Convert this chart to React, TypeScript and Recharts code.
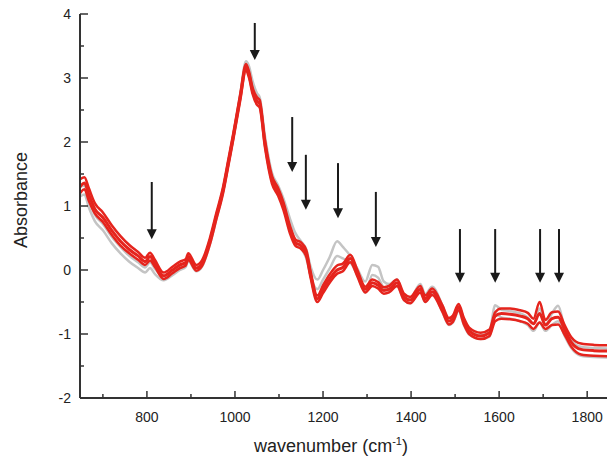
import { LineChart, Line, XAxis, YAxis, ReferenceLine, Label } from 'recharts'

const wavenumber = [
  648, 658, 668, 682, 700, 720, 740, 760, 780, 796, 807, 818, 838, 858, 875, 888, 894, 912, 925, 943,
  958, 973, 985, 996, 1012, 1025, 1032, 1040, 1050, 1056, 1068, 1084, 1098, 1110, 1125, 1137, 1150, 1162, 1172, 1187,
  1200, 1215, 1232, 1245, 1262, 1278, 1296, 1312, 1325, 1338, 1350, 1368, 1384, 1398, 1421, 1432, 1448, 1471, 1486, 1495,
  1508, 1520, 1532, 1558, 1578, 1591, 1605, 1625, 1648, 1665, 1678, 1692, 1705, 1720, 1734, 1748, 1764, 1786, 1815, 1870,
]

const redUpper = [
  1.42, 1.45, 1.28, 1.04, 0.9, 0.7, 0.53, 0.39, 0.28, 0.19, 0.27, 0.16, -0.04, 0.05, 0.13, 0.17, 0.26, 0.08, 0.15, 0.5,
  0.9, 1.3, 1.73, 2.13, 2.75, 3.22, 3.1, 2.85, 2.7, 2.66, 2.04, 1.47, 1.28, 1.06, 0.69, 0.48, 0.43, 0.31, -0.03, -0.4,
  -0.24, -0.07, 0.07, 0.1, 0.24, 0.0, -0.26, -0.15, -0.19, -0.27, -0.25, -0.15, -0.37, -0.42, -0.25, -0.4, -0.29, -0.55, -0.75, -0.71,
  -0.53, -0.75, -0.9, -0.98, -0.93, -0.66, -0.6, -0.6, -0.63, -0.67, -0.76, -0.5, -0.78, -0.66, -0.65, -0.85, -1.05, -1.15, -1.17, -1.18,
]

const redMiddle = [
  1.3, 1.36, 1.18, 0.95, 0.82, 0.62, 0.45, 0.32, 0.22, 0.13, 0.21, 0.1, -0.09, 0.0, 0.08, 0.12, 0.21, 0.03, 0.1, 0.45,
  0.85, 1.25, 1.68, 2.08, 2.7, 3.17, 3.05, 2.8, 2.64, 2.6, 1.98, 1.41, 1.22, 1.0, 0.63, 0.43, 0.38, 0.26, -0.08, -0.45,
  -0.3, -0.14, 0.0, 0.04, 0.18, -0.05, -0.3, -0.2, -0.24, -0.32, -0.3, -0.2, -0.42, -0.47, -0.3, -0.45, -0.34, -0.6, -0.8, -0.76,
  -0.58, -0.8, -0.95, -1.03, -0.98, -0.72, -0.68, -0.69, -0.72, -0.76, -0.84, -0.68, -0.86, -0.76, -0.74, -0.92, -1.13, -1.24, -1.26, -1.27,
]

const redLower = [
  1.2, 1.26, 1.08, 0.88, 0.75, 0.55, 0.38, 0.26, 0.16, 0.08, 0.15, 0.05, -0.14, -0.05, 0.03, 0.07, 0.16, -0.01, 0.06, 0.4,
  0.8, 1.2, 1.63, 2.03, 2.65, 3.12, 3.0, 2.75, 2.58, 2.54, 1.92, 1.35, 1.16, 0.94, 0.57, 0.38, 0.33, 0.21, -0.13, -0.5,
  -0.36, -0.2, -0.06, -0.02, 0.12, -0.1, -0.35, -0.25, -0.29, -0.37, -0.35, -0.25, -0.47, -0.52, -0.35, -0.5, -0.39, -0.65, -0.85, -0.81,
  -0.63, -0.85, -1.0, -1.08, -1.03, -0.8, -0.76, -0.77, -0.8, -0.84, -0.92, -0.82, -0.92, -0.86, -0.85, -1.0, -1.2, -1.32, -1.34, -1.35,
]

const grayUpper = [
  1.3, 1.32, 1.1, 0.86, 0.72, 0.52, 0.36, 0.22, 0.12, 0.04, 0.12, 0.02, -0.1, -0.02, 0.06, 0.11, 0.2, 0.03, 0.1, 0.45,
  0.85, 1.27, 1.7, 2.1, 2.75, 3.26, 3.18, 2.95, 2.76, 2.7, 2.1, 1.52, 1.32, 1.12, 0.8, 0.58, 0.45, 0.32, 0.05, -0.15,
  0.0, 0.2, 0.45, 0.36, 0.22, 0.02, -0.18, 0.08, 0.05, -0.18, -0.22, -0.15, -0.4, -0.44, -0.22, -0.38, -0.26, -0.55, -0.78, -0.74,
  -0.56, -0.78, -0.94, -1.02, -0.96, -0.55, -0.62, -0.64, -0.68, -0.74, -0.84, -0.6, -0.86, -0.68, -0.56, -0.88, -1.1, -1.2, -1.22, -1.23,
]

const grayLower = [
  1.15, 1.18, 0.98, 0.76, 0.62, 0.42, 0.26, 0.13, 0.03, -0.04, 0.03, -0.06, -0.16, -0.08, 0.0, 0.05, 0.14, -0.02, 0.05, 0.4,
  0.8, 1.22, 1.65, 2.05, 2.7, 3.2, 3.1, 2.88, 2.68, 2.62, 2.02, 1.44, 1.24, 1.04, 0.7, 0.46, 0.34, 0.18, -0.1, -0.3,
  -0.15, 0.02, 0.22, 0.18, 0.12, -0.08, -0.35, -0.08, -0.12, -0.28, -0.32, -0.25, -0.47, -0.52, -0.33, -0.5, -0.36, -0.65, -0.86, -0.82,
  -0.64, -0.86, -1.01, -1.08, -1.04, -0.68, -0.74, -0.76, -0.8, -0.86, -0.95, -0.82, -0.95, -0.86, -0.8, -1.02, -1.22, -1.34, -1.36, -1.37,
]

// arrows: wavenumber, top of shaft, arrow tip
const arrowWavenumber = [811, 1045, 1130, 1161, 1234, 1320, 1511, 1591, 1693, 1736]
const arrowTop = [1.375, 3.86, 2.39, 1.8, 1.67, 1.22, 0.64, 0.64, 0.64, 0.64]
const arrowTip = [0.48, 3.28, 1.53, 0.94, 0.81, 0.36, -0.2, -0.2, -0.2, -0.2]

const xTicks = [700, 800, 900, 1000, 1100, 1200, 1300, 1400, 1500, 1600, 1700, 1800]
const yTicks = [-2, -1.5, -1, -0.5, 0, 0.5, 1, 1.5, 2, 2.5, 3, 3.5, 4]

const chartData = wavenumber.map((wn, i) => ({
  wn,
  gU: grayUpper[i],
  gL: grayLower[i],
  rU: redUpper[i],
  rM: redMiddle[i],
  rL: redLower[i],
}))

const FONT = '"Liberation Sans", Arial, sans-serif'
const AXIS = '#333'
const RED = '#e5241d'
const GRAY = '#c4c4c4'

const XTick = ({ x, y, payload }: any) => {
  const major = payload.value % 200 === 0
  return (
    <g>
      <line x1={x} x2={x} y1={y} y2={y - (major ? 7 : 4)} stroke={AXIS} strokeWidth={1.5} />
      {major && (
        <text x={x} y={y + 24} textAnchor="middle" fontSize={14} fontFamily={FONT} fill="#222">
          {payload.value}
        </text>
      )}
    </g>
  )
}

const YTick = ({ x, y, payload }: any) => {
  const major = Number.isInteger(payload.value)
  return (
    <g>
      <line x1={x} x2={x + (major ? 8 : 4)} y1={y} y2={y} stroke={AXIS} strokeWidth={1.5} />
      {major && (
        <text x={x - 9} y={y + 5} textAnchor="end" fontSize={14} fontFamily={FONT} fill="#222">
          {payload.value}
        </text>
      )}
    </g>
  )
}

const Arrow = ({ x1, y1, x2, y2 }: any) => {
  const top = Math.min(y1, y2)
  const tip = Math.max(y1, y2)
  return (
    <g>
      <line x1={x1} x2={x1} y1={top} y2={tip - 8} stroke="#1a1a1a" strokeWidth={2} />
      <polygon points={`${x1 - 5},${tip - 10} ${x1 + 5},${tip - 10} ${x1},${tip}`} fill="#1a1a1a" />
    </g>
  )
}

export default function App() {
  return (
    <div style={{ position: 'absolute', left: 0, top: 0, width: 607, height: 465, overflow: 'hidden', background: '#fff' }}>
      <LineChart width={618} height={465} data={chartData} margin={{ top: 14, right: 0, bottom: 0, left: 0 }}>
        <XAxis
          dataKey="wn"
          type="number"
          domain={[648, 1870]}
          ticks={xTicks}
          allowDataOverflow
          height={67}
          tickSize={0}
          tickMargin={0}
          tickLine={false}
          tick={<XTick />}
          axisLine={{ stroke: AXIS, strokeWidth: 2 }}
        >
          <Label
            content={() => (
              <text x={331} y={452} textAnchor="middle" fontSize={18} fontFamily={FONT} fill="#222">
                wavenumber (cm
                <tspan dy={-7} fontSize={11}>-1</tspan>
                <tspan dy={7}>)</tspan>
              </text>
            )}
          />
        </XAxis>
        <XAxis
          xAxisId="top"
          orientation="top"
          dataKey="wn"
          type="number"
          domain={[648, 1870]}
          height={0}
          tick={false}
          tickLine={false}
          axisLine={{ stroke: AXIS, strokeWidth: 2 }}
        />
        <YAxis
          type="number"
          domain={[-2, 4]}
          ticks={yTicks}
          width={80}
          tickSize={0}
          tickMargin={0}
          tickLine={false}
          tick={<YTick />}
          axisLine={{ stroke: AXIS, strokeWidth: 2 }}
        >
          <Label
            content={() => (
              <text
                x={27}
                y={200}
                transform="rotate(-90 27 200)"
                textAnchor="middle"
                fontSize={18}
                fontFamily={FONT}
                fill="#222"
              >
                Absorbance
              </text>
            )}
          />
        </YAxis>
        <Line type="monotone" dataKey="gU" stroke={GRAY} strokeWidth={2.5} dot={false} isAnimationActive={false} />
        <Line type="monotone" dataKey="gL" stroke={GRAY} strokeWidth={2.5} dot={false} isAnimationActive={false} />
        <Line type="monotone" dataKey="rU" stroke={RED} strokeWidth={2.5} dot={false} isAnimationActive={false} />
        <Line type="monotone" dataKey="rL" stroke={RED} strokeWidth={2.5} dot={false} isAnimationActive={false} />
        <Line type="monotone" dataKey="rM" stroke={RED} strokeWidth={3} dot={false} isAnimationActive={false} />
        {arrowWavenumber.map((wn, i) => (
          <ReferenceLine
            key={`arrow-${i}`}
            segment={[
              { x: wn, y: arrowTop[i] },
              { x: wn, y: arrowTip[i] },
            ]}
            shape={<Arrow />}
          />
        ))}
      </LineChart>
    </div>
  )
}
